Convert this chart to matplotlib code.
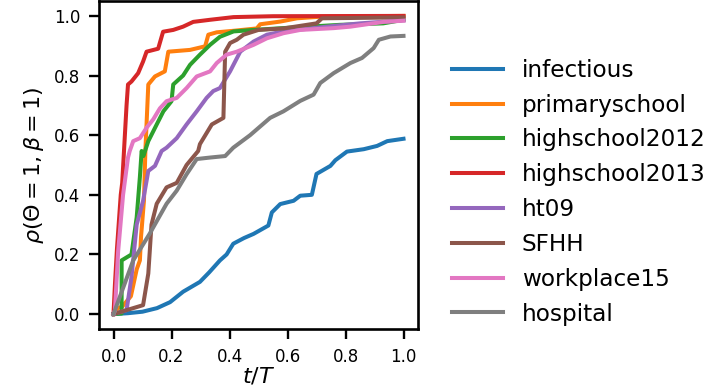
import matplotlib
matplotlib.use("Agg")
import matplotlib.pyplot as plt

# curves (t/T, rho)
labels = ["infectious", "primaryschool", "highschool2012", "highschool2013",
          "ht09", "SFHH", "workplace15", "hospital"]

t_infectious = [0, 0.05, 0.10, 0.15, 0.195, 0.24, 0.298, 0.33, 0.367, 0.39, 0.413, 0.45, 0.483,
                0.534, 0.546, 0.575, 0.621, 0.644, 0.684, 0.70, 0.748, 0.765, 0.805, 0.863,
                0.909, 0.944, 1.0]
r_infectious = [0, 0.003, 0.008, 0.02, 0.04, 0.075, 0.108, 0.14, 0.18, 0.20, 0.236, 0.255, 0.269,
                0.297, 0.341, 0.369, 0.38, 0.397, 0.40, 0.47, 0.497, 0.516, 0.545, 0.553,
                0.564, 0.58, 0.588]

t_primary = [0, 0.015, 0.03, 0.06, 0.08, 0.091, 0.095, 0.105, 0.11, 0.12, 0.143, 0.177, 0.189,
             0.264, 0.316, 0.327, 0.356, 0.413, 0.494, 0.506, 0.575, 0.633, 0.725, 1.0]
r_primary = [0, 0.02, 0.025, 0.06, 0.15, 0.18, 0.26, 0.38, 0.55, 0.77, 0.797, 0.814, 0.88,
             0.886, 0.898, 0.937, 0.945, 0.95, 0.958, 0.972, 0.981, 0.992, 0.998, 1.0]

t_hs2012 = [0, 0.028, 0.028, 0.062, 0.08, 0.091, 0.097, 0.103, 0.12, 0.149, 0.172, 0.2, 0.206,
            0.24, 0.264, 0.298, 0.333, 0.367, 0.414, 0.483, 0.6, 0.78, 0.93, 1.0]
r_hs2012 = [0, 0.002, 0.18, 0.2, 0.325, 0.46, 0.547, 0.53, 0.58, 0.636, 0.68, 0.714, 0.77,
            0.80, 0.836, 0.87, 0.903, 0.93, 0.948, 0.953, 0.96, 0.97, 0.975, 0.987]

t_hs2013 = [0, 0.005, 0.012, 0.025, 0.03, 0.045, 0.05, 0.062, 0.085, 0.102, 0.114, 0.154, 0.171,
            0.206, 0.24, 0.275, 0.333, 0.414, 0.55, 1.0]
r_hs2013 = [0, 0.1, 0.22, 0.40, 0.44, 0.70, 0.77, 0.78, 0.808, 0.847, 0.88, 0.89, 0.947,
            0.953, 0.964, 0.98, 0.987, 0.996, 0.999, 1.0]

t_ht09 = [0, 0.045, 0.062, 0.08, 0.102, 0.12, 0.143, 0.166, 0.183, 0.218, 0.252, 0.287, 0.321,
          0.344, 0.367, 0.402, 0.437, 0.483, 0.529, 0.586, 0.736, 0.85, 1.0]
r_ht09 = [0, 0.013, 0.124, 0.30, 0.38, 0.48, 0.497, 0.547, 0.558, 0.59, 0.636, 0.68, 0.725,
          0.748, 0.758, 0.814, 0.88, 0.914, 0.937, 0.948, 0.964, 0.975, 0.985]

t_sfhh = [0, 0.102, 0.12, 0.125, 0.131, 0.149, 0.183, 0.218, 0.252, 0.292, 0.298, 0.339, 0.379,
          0.385, 0.402, 0.425, 0.448, 0.5, 0.586, 0.70, 0.719, 1.0]
r_sfhh = [0, 0.03, 0.136, 0.21, 0.30, 0.37, 0.425, 0.44, 0.50, 0.547, 0.57, 0.636, 0.658,
          0.88, 0.909, 0.92, 0.937, 0.953, 0.958, 0.975, 0.992, 0.995]

t_work = [0, 0.005, 0.016, 0.033, 0.05, 0.056, 0.068, 0.091, 0.114, 0.137, 0.16, 0.183, 0.218,
          0.252, 0.287, 0.333, 0.356, 0.39, 0.425, 0.483, 0.529, 0.586, 0.644, 0.759, 0.817,
          0.874, 0.932, 1.0]
r_work = [0, 0.013, 0.21, 0.40, 0.525, 0.547, 0.58, 0.59, 0.625, 0.653, 0.69, 0.714, 0.725,
          0.758, 0.797, 0.814, 0.842, 0.87, 0.88, 0.903, 0.925, 0.942, 0.953, 0.959, 0.964,
          0.972, 0.98, 0.984]

t_hospital = [0, 0.068, 0.125, 0.183, 0.218, 0.252, 0.287, 0.333, 0.385, 0.413, 0.471, 0.54,
              0.586, 0.644, 0.69, 0.713, 0.759, 0.817, 0.857, 0.897, 0.915, 0.955, 1.0]
r_hospital = [0, 0.18, 0.27, 0.37, 0.414, 0.469, 0.52, 0.525, 0.53, 0.558, 0.60, 0.658,
              0.68, 0.715, 0.736, 0.775, 0.808, 0.842, 0.859, 0.892, 0.92, 0.931, 0.933]

series = [(t_infectious, r_infectious), (t_primary, r_primary), (t_hs2012, r_hs2012),
          (t_hs2013, r_hs2013), (t_ht09, r_ht09), (t_sfhh, r_sfhh),
          (t_work, r_work), (t_hospital, r_hospital)]

fig = plt.figure(figsize=(7.07, 3.92), dpi=100)
ax = fig.add_axes([99 / 707, 63 / 392, 319 / 707, 328 / 392])

for (t, r), lab in zip(series, labels):
    ax.plot(t, r, lw=2.9, label=lab)

ax.set_xticks([0, 0.2, 0.4, 0.6, 0.8, 1.0])
ax.set_yticks([0, 0.2, 0.4, 0.6, 0.8, 1.0])
ax.tick_params(labelsize=12, length=7.5, width=1.7, pad=6)
for s in ax.spines.values():
    s.set_linewidth(1.9)
ax.set_xlabel(r"$t/T$", fontsize=16, labelpad=0)
ax.set_ylabel(r"$\rho(\Theta=1,\beta=1)$", fontsize=16, labelpad=6)

fig.legend(loc="center left", bbox_to_anchor=(442.7 / 707, 1 - 192.2 / 392),
           frameon=False, fontsize=16.7, handlelength=2.2, labelspacing=0.51,
           borderaxespad=0)

fig.savefig("out.png", dpi=100)
